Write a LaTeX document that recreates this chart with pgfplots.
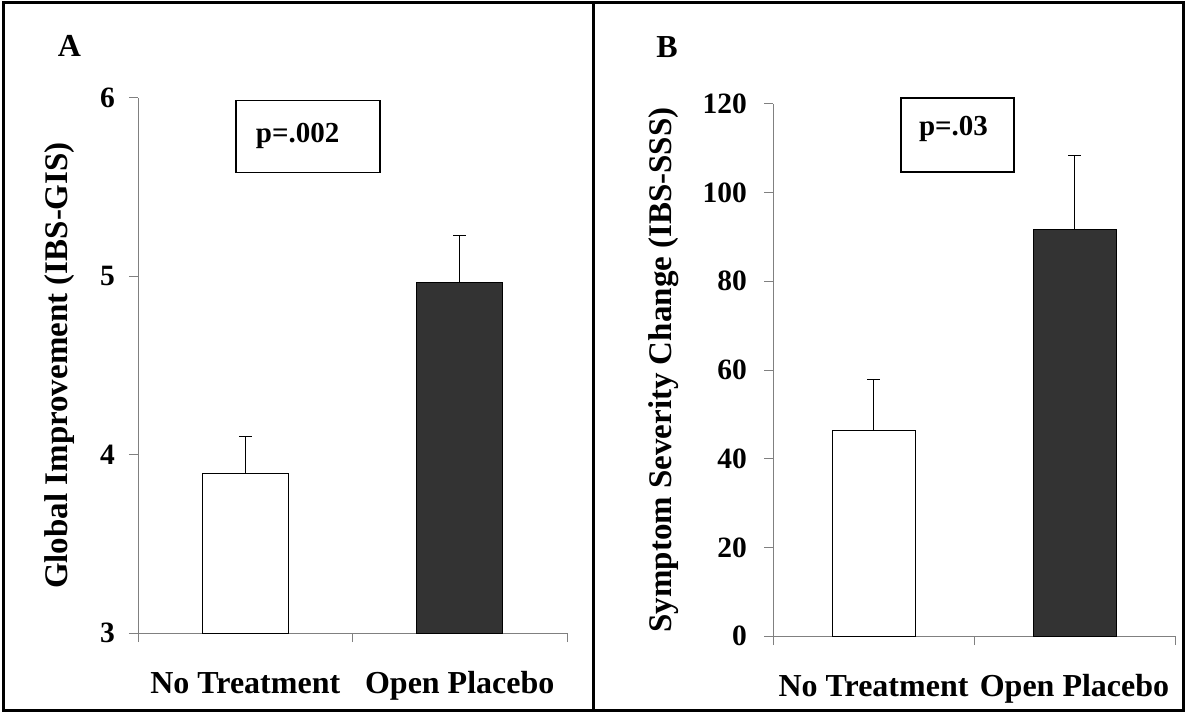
\documentclass[border=0pt]{standalone}
\usepackage{pgfplots}
\pgfplotsset{compat=1.18}
\usepackage{fontspec}
\setmainfont{Liberation Serif}
\definecolor{axgray}{RGB}{128,128,128}
\definecolor{darkbar}{RGB}{51,51,51}
\begin{document}
\begin{tikzpicture}[x=1pt,y=1pt]
\useasboundingbox (0,0) rectangle (1186,713);
\pgfplotsset{
  panel/.style={
    scale only axis,
    axis x line=bottom, axis y line=left,
    axis line style={-, draw=axgray, line width=1pt},
    tick align=outside, major tick length=9pt,
    tick style={draw=axgray, line width=1pt},
    xmin=0, xmax=2, xtick={0,1,2}, xticklabels={},
    extra x ticks={0.5,1.5},
    extra x tick labels={No Treatment, Open Placebo},
    extra x tick style={major tick length=0pt, tick style={draw=none},
      xticklabel style={font=\fontsize{32}{32}\selectfont\bfseries, anchor=base, inner sep=0pt, yshift=-60pt}},
    /pgf/number format/assume math mode=true,
    yticklabel style={font=\fontsize{29.5}{30}\selectfont\bfseries, inner sep=0pt},
    clip mode=individual,
  },
  barwhite/.style={ybar, bar shift=0pt, fill=white, draw=black, line width=1pt,
    error bars/.cd, y dir=plus, y explicit,
    error bar style={black, line width=1pt},
    error mark options={rotate=90, mark size=6.3pt, black, line width=1pt}},
  bardark/.style={ybar, bar shift=0pt, fill=darkbar, draw=black, line width=1pt,
    error bars/.cd, y dir=plus, y explicit,
    error bar style={black, line width=1pt},
    error mark options={rotate=90, mark size=6.3pt, black, line width=1pt}},
}
% Panel A
\begin{axis}[panel, at={(138pt,80pt)}, anchor=south west,
  width=429pt, height=535pt,
  ymin=3, ymax=6, ytick={3,4,5,6},
  yticklabel style={xshift=-14pt},
  ylabel={Global Improvement (IBS-GIS)},
  every axis y label/.style={at={(axis description cs:-0.182,0.5)}, rotate=90, anchor=center, font=\fontsize{33}{33}\selectfont\bfseries},
]
\addplot[bar width=86pt, barwhite] coordinates {(0.5,3.895) +- (0,0.205)};
\addplot[bar width=86pt, bardark] coordinates {(1.5,4.966) +- (0,0.262)};
\draw[line width=1.5pt] (axis cs:0.457,5.583) rectangle (axis cs:1.128,5.986);
\node[font=\fontsize{29}{29}\selectfont\bfseries, anchor=base] at (axis cs:0.744,5.751) {p=.002};
\end{axis}
% Panel B
\begin{axis}[panel, at={(773pt,77pt)}, anchor=south west,
  width=402pt, height=532pt,
  ymin=0, ymax=120, ytick={0,20,...,120},
  yticklabel style={xshift=-17pt},
  ylabel={Symptom Severity Change (IBS-SSS)},
  every axis y label/.style={at={(axis description cs:-0.271,0.5)}, rotate=90, anchor=center, font=\fontsize{33}{33}\selectfont\bfseries},
]
\addplot[bar width=83pt, barwhite] coordinates {(0.5,46.4) +- (0,11.5)};
\addplot[bar width=83pt, bardark] coordinates {(1.5,91.7) +- (0,16.7)};
\draw[line width=1.5pt] (axis cs:0.637,104.7) rectangle (axis cs:1.199,121.4);
\node[font=\fontsize{29}{29}\selectfont\bfseries, anchor=base] at (axis cs:0.898,113.0) {p=.03};
\end{axis}
\node[font=\fontsize{32}{32}\selectfont\bfseries, anchor=base] at (69.5,656) {A};
\node[font=\fontsize{32}{32}\selectfont\bfseries, anchor=base] at (667,655) {B};
\draw[line width=3pt] (3,3) rectangle (1183,710);
\draw[line width=3pt] (593.5,3) -- (593.5,710);
\end{tikzpicture}
\end{document}
